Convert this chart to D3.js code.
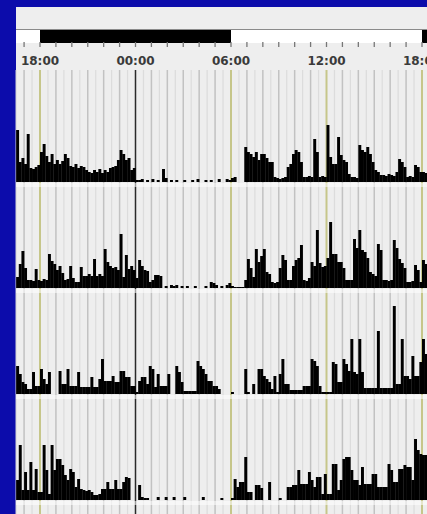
<!DOCTYPE html>
<html>
<head>
  <meta charset="utf-8">
  <title>Actogram</title>
  <style>
    body { margin: 0; background: #0c0cab; }
    svg { display: block; }
  </style>
</head>
<body>
  <div id="chart"></div>

  <script src="https://cdn.jsdelivr.net/npm/d3@7/dist/d3.min.js"></script>
  <script>

    // activity counts, 10-minute bins starting at 16:30, one array per day
    let binStart = 16.5;
    let binSize = 1 / 6;

    let day1 = [
      52,20,24,18,48,14, 13,15,17,30,38,26, 20,28,18,22,18,21, 28,24,16,15,18,14,
      16,15,12,10,9,12, 10,13,9,12,10,14, 15,16,22,32,28,22, 24,12,14,2,2,3,
      0,2,0,3,0,2, 0,13,4,0,2,0, 2,0,0,2,0,0, 2,0,3,0,0,2,
      0,2,0,0,3,0, 0,3,2,4,5,0, 0,0,35,30,28,25, 30,22,28,28,24,20,
      20,5,4,3,4,5, 15,18,28,32,30,20, 5,5,6,5,43,30, 5,6,5,57,25,18,
      18,45,27,22,20,8, 5,5,4,37,32,30, 35,28,20,12,10,7, 7,6,8,7,6,10,
      23,20,15,5,6,5, 17,15,10,10,9,8
    ];
    let day2 = [
      11,24,37,20,8,8, 7,19,8,7,9,8, 34,27,24,18,22,15, 8,9,22,10,6,6,
      21,12,12,14,12,29, 12,14,12,39,26,22, 20,21,18,54,11,33, 19,22,18,10,28,22,
      18,17,6,8,13,13, 12,0,2,0,3,2, 3,0,2,0,2,0, 0,2,0,0,0,2,
      0,6,5,3,0,2, 0,3,5,2,1,1, 1,1,8,29,20,11, 39,26,32,39,16,14,
      6,5,6,20,33,28, 8,8,22,28,30,43, 8,7,10,26,22,58, 25,21,22,30,66,34,
      34,26,26,20,8,8, 8,49,40,58,38,36, 30,16,14,12,44,38, 8,8,7,8,48,40,
      29,25,20,6,6,7, 23,18,6,28,24,20
    ];
    let day3 = [
      28,20,12,10,5,5, 22,8,8,25,15,10, 22,0,0,0,23,10, 10,25,8,8,8,22,
      7,7,7,7,17,7, 7,15,35,13,13,13, 18,12,12,23,23,17, 17,8,8,2,13,17,
      17,10,28,25,7,20, 8,8,8,20,0,0, 28,22,12,3,3,3, 3,3,33,28,25,20,
      13,13,8,8,5,0, 0,0,0,2,0,0, 0,0,25,2,0,10, 0,25,25,18,15,12,
      5,18,2,20,35,10, 10,4,4,4,4,4, 8,8,8,35,33,28, 8,2,2,2,2,32,
      30,12,12,35,30,23, 55,22,20,55,22,6, 6,6,6,6,63,6, 6,6,6,6,88,10,
      10,55,18,18,15,38, 18,18,32,55,40,35
    ];
    let day4 = [
      20,55,10,28,10,38, 10,31,8,8,55,30, 6,55,30,41,41,35, 25,20,31,28,13,21,
      11,10,9,10,8,5, 5,6,11,11,18,11, 11,20,11,11,18,23, 22,0,0,0,15,3,
      2,2,0,0,0,3, 0,0,3,0,0,3, 0,0,0,3,0,0, 0,0,0,0,3,0,
      0,0,0,0,0,2, 0,0,0,2,21,13, 18,18,43,8,8,0, 15,15,12,0,0,18,
      0,0,0,2,0,0, 13,13,15,15,30,16, 16,16,28,20,13,23, 23,6,26,6,6,36,
      36,10,20,41,43,43, 30,20,20,15,33,16, 16,16,26,26,13,13, 13,13,36,30,18,18,
      31,31,35,33,33,20, 61,50,46,45,45,40
    ];
    let days = [day1, day2, day3, day4];

    let tickHours = [18, 24, 30, 36, 42];
    let tickLabels = ['18:00', '00:00', '06:00', '12:00', '18:00'];

    // light (false) / dark (true) periods, in hours
    let lightFrom = [16.5, 18, 30, 42];
    let lightTo = [18, 30, 42, 42.6];
    let lightDark = [false, true, false, true];

    function translate(x, y) {
      return 'translate(' + x + ',' + y + ')';
    }

    let svgWidth = 427;
    let svgHeight = 514;

    let svg = d3.select('#chart')
      .append('svg')
        .attr('width', svgWidth)
        .attr('height', svgHeight);

    // scales
    let x = d3.scaleLinear().domain([18, 42]).range([40, 422]);
    let rowY = d3.scaleLinear().domain([0, 3]).range([182, 500]);
    let h = d3.scaleLinear().domain([0, 100]).range([0, 100]);

    // grey panel
    svg.append('rect')
      .attr('x', 16).attr('y', 7)
      .attr('width', svgWidth - 16).attr('height', svgHeight - 7)
      .attr('fill', '#eeeeee');

    let panel = svg.append('g');

    // light / dark bar
    panel.append('line')
      .attr('x1', 16).attr('x2', svgWidth)
      .attr('y1', 29.5).attr('y2', 29.5)
      .attr('stroke', '#8a8a8a').attr('stroke-width', 1.2);

    panel.selectAll('rect.ld')
      .data(lightFrom)
      .enter()
        .append('rect')
        .attr('class', 'ld')
        .attr('x', d => x(d))
        .attr('y', 30)
        .attr('width', (d, i) => x(lightTo[i]) - x(d))
        .attr('height', 13)
        .attr('fill', (d, i) => lightDark[i] ? '#000000' : '#ffffff');

    // hour ticks under the bar
    let hours = d3.range(17, 43);
    panel.selectAll('line.tick')
      .data(hours)
      .enter()
        .append('line')
        .attr('x1', d => x(d)).attr('x2', d => x(d))
        .attr('y1', 42).attr('y2', 47)
        .attr('stroke', '#777').attr('stroke-width', 1.3);

    // time labels
    panel.selectAll('text.lab')
      .data(tickHours)
      .enter()
        .append('text')
        .attr('x', d => x(d))
        .attr('y', 65)
        .attr('text-anchor', 'middle')
        .attr('font-family', 'DejaVu Sans, sans-serif')
        .attr('font-weight', 'bold')
        .attr('font-size', 12)
        .attr('fill', '#3a3a3a')
        .text((d, i) => tickLabels[i]);

    // half-hour grid lines
    let halfHours = d3.range(16.5, 43, 1);
    panel.selectAll('line.half')
      .data(halfHours)
      .enter()
        .append('line')
        .attr('x1', d => x(d)).attr('x2', d => x(d))
        .attr('y1', 70).attr('y2', svgHeight)
        .attr('stroke', '#dcdcdc').attr('stroke-width', 1.2);

    // hourly grid lines (yellow at 6h marks, black at midnight)
    panel.selectAll('line.hour')
      .data(hours)
      .enter()
        .append('line')
        .attr('x1', d => x(d)).attr('x2', d => x(d))
        .attr('y1', 70).attr('y2', svgHeight)
        .attr('stroke', d => d === 24 ? '#2a2a2a' : (tickHours.includes(d) ? '#c6c68a' : '#c2c2c2'))
        .attr('stroke-width', d => d === 24 ? 1.5 : (tickHours.includes(d) ? 2 : 1.5));

    // light band under each row
    panel.selectAll('rect.band')
      .data(days)
      .enter()
        .append('rect')
        .attr('x', 16)
        .attr('y', (d, i) => rowY(i) + 1)
        .attr('width', svgWidth - 16)
        .attr('height', 4)
        .attr('fill', '#ffffff')
        .attr('opacity', 0.55);

    // activity bars
    days.forEach(function (day, r) {
      let base = rowY(r);
      panel.append('g')
        .selectAll('rect')
        .data(day)
        .enter()
          .append('rect')
          .attr('x', (d, i) => x(binStart + i * binSize))
          .attr('width', (d, i) => x(binStart + (i + 1) * binSize) - x(binStart + i * binSize) + 0.3)
          .attr('y', d => base - h(d))
          .attr('height', d => h(d))
          .attr('fill', '#000000');
    });

  </script>
</body>
</html>
